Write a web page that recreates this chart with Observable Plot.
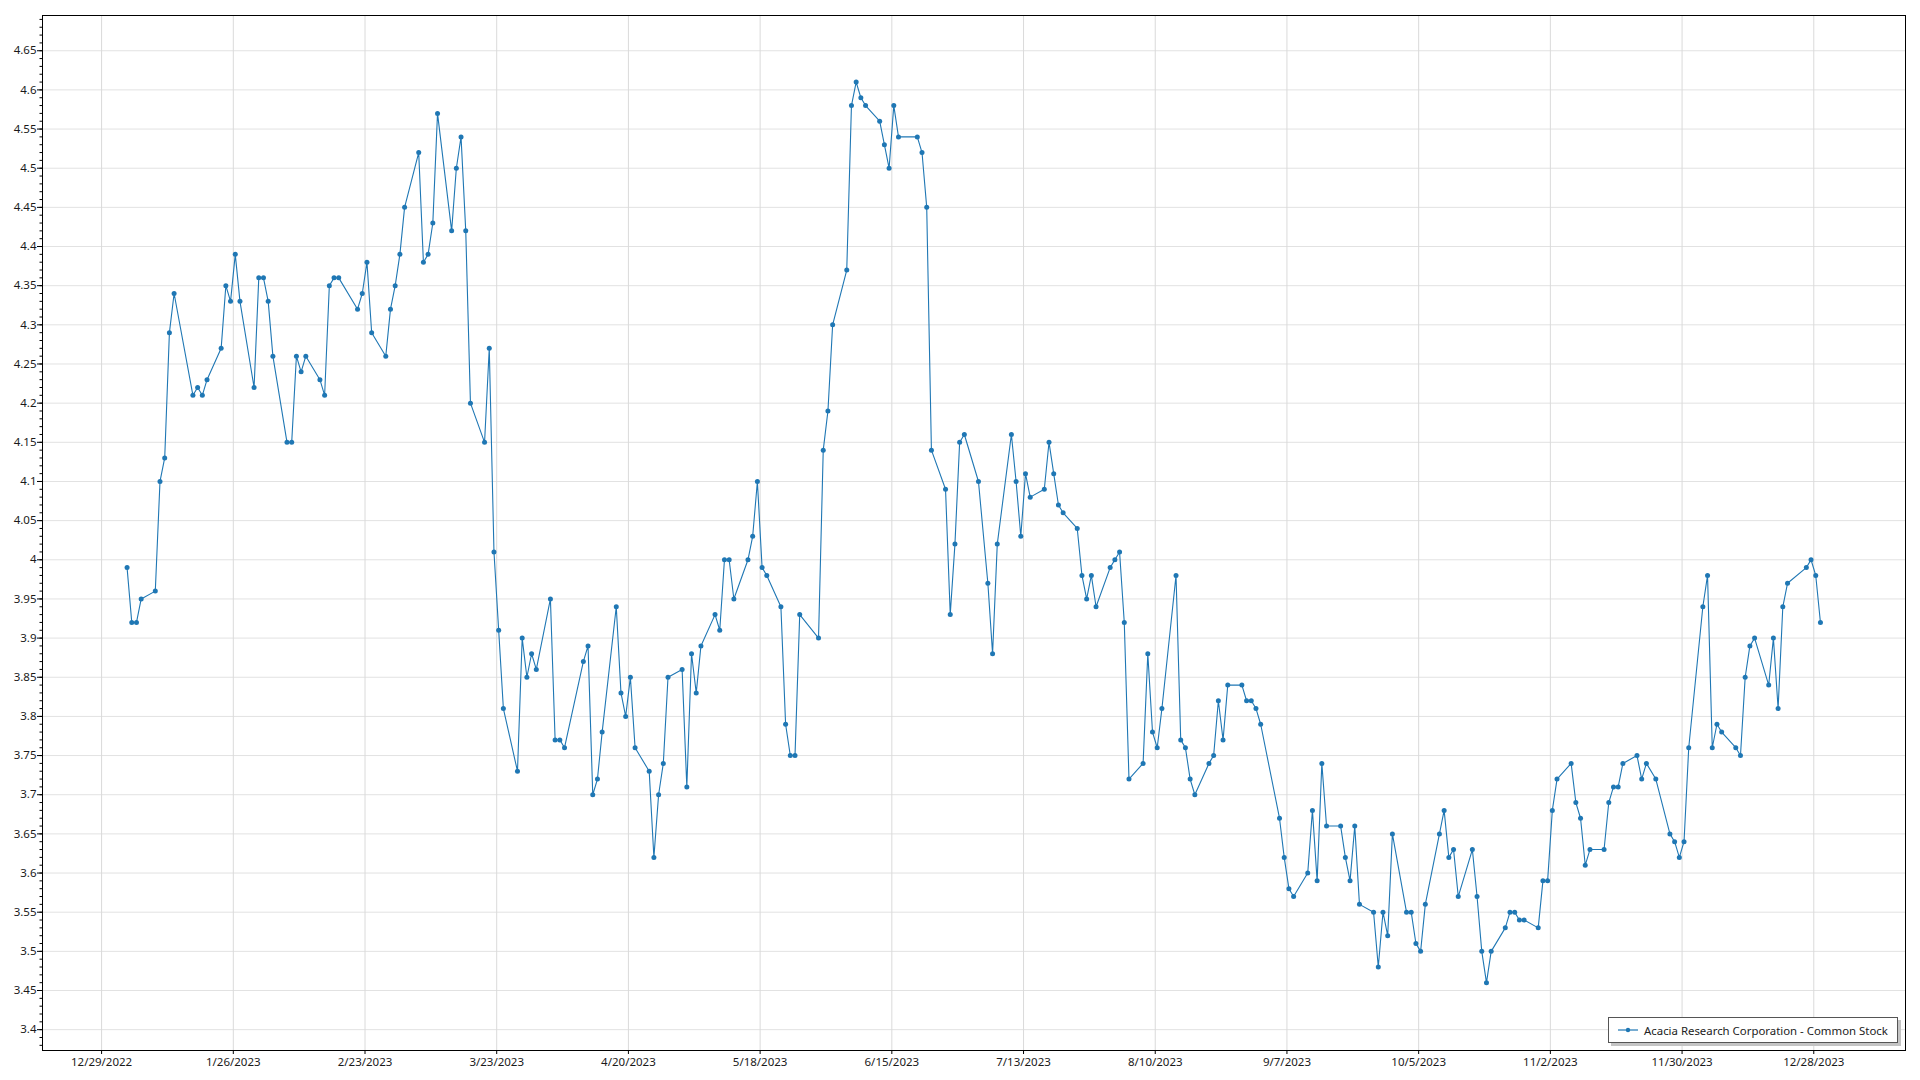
<!DOCTYPE html>
<html>
<head>
<meta charset="utf-8">
<script src="https://cdn.jsdelivr.net/npm/d3@7"></script>
<script src="https://cdn.jsdelivr.net/npm/@observablehq/plot@0.6"></script>
<style>
  html, body { margin: 0; padding: 0; background: #fff; }
  #wrap { position: relative; width: 1920px; height: 1080px; overflow: hidden; }
  #legend {
    position: absolute; left: 1608px; top: 1017px; width: 288px; height: 24px;
    border: 1px solid #555; background: #fff; box-shadow: 3px 3px 0 #c4c4c4;
    font-family: 'Segoe UI', 'Noto Sans', sans-serif; font-size: 11.4px; color: #222;
    display: flex; align-items: center; box-sizing: content-box; white-space: nowrap;
  }
  #legend svg { margin-left: 9px; margin-right: 6px; flex: none; }
</style>
</head>
<body>
<div id="wrap"></div>
<script>
// Acacia Research Corporation - Common Stock, daily closes 2023
const janDays = [3,4,5,6,9,10,11,12,13,17,18,19,20,23,24,25,26,27,30,31];
const janClose = [3.99,3.92,3.92,3.95,3.96,4.10,4.13,4.29,4.34,4.21,4.22,4.21,4.23,4.27,4.35,4.33,4.39,4.33,4.22,4.36];
const febDays = [1,2,3,6,7,8,9,10,13,14,15,16,17,21,22,23,24,27,28];
const febClose = [4.36,4.33,4.26,4.15,4.15,4.26,4.24,4.26,4.23,4.21,4.35,4.36,4.36,4.32,4.34,4.38,4.29,4.26,4.32];
const marDays = [1,2,3,6,7,8,9,10,13,14,15,16,17,20,21,22,23,24,27,28,29,30,31];
const marClose = [4.35,4.39,4.45,4.52,4.38,4.39,4.43,4.57,4.42,4.50,4.54,4.42,4.20,4.15,4.27,4.01,3.91,3.81,3.73,3.90,3.85,3.88,3.86];
const aprDays = [3,4,5,6,10,11,12,13,14,17,18,19,20,21,24,25,26,27,28];
const aprClose = [3.95,3.77,3.77,3.76,3.87,3.89,3.70,3.72,3.78,3.94,3.83,3.80,3.85,3.76,3.73,3.62,3.70,3.74,3.85];
const mayDays = [1,2,3,4,5,8,9,10,11,12,15,16,17,18,19,22,23,24,25,26,30,31];
const mayClose = [3.86,3.71,3.88,3.83,3.89,3.93,3.91,4.00,4.00,3.95,4.00,4.03,4.10,3.99,3.98,3.94,3.79,3.75,3.75,3.93,3.90,4.14];
const junDays = [1,2,5,6,7,8,9,12,13,14,15,16,20,21,22,23,26,27,28,29,30];
const junClose = [4.19,4.30,4.37,4.58,4.61,4.59,4.58,4.56,4.53,4.50,4.58,4.54,4.54,4.52,4.45,4.14,4.09,3.93,4.02,4.15,4.16];
const julDays = [3,5,6,7,10,11,12,13,14,17,18,19,20,21,24,25,26,27,28,31];
const julClose = [4.10,3.97,3.88,4.02,4.16,4.10,4.03,4.11,4.08,4.09,4.15,4.11,4.07,4.06,4.04,3.98,3.95,3.98,3.94,3.99];
const augDays = [1,2,3,4,7,8,9,10,11,14,15,16,17,18,21,22,23,24,25,28,29,30,31];
const augClose = [4.00,4.01,3.92,3.72,3.74,3.88,3.78,3.76,3.81,3.98,3.77,3.76,3.72,3.70,3.74,3.75,3.82,3.77,3.84,3.84,3.82,3.82,3.81];
const sepDays = [1,5,6,7,8,11,12,13,14,15,18,19,20,21,22,25,26,27,28,29];
const sepClose = [3.79,3.67,3.62,3.58,3.57,3.60,3.68,3.59,3.74,3.66,3.66,3.62,3.59,3.66,3.56,3.55,3.48,3.55,3.52,3.65];
const octDays = [2,3,4,5,6,9,10,11,12,13,16,17,18,19,20,23,24,25,26,27,30,31];
const octClose = [3.55,3.55,3.51,3.50,3.56,3.65,3.68,3.62,3.63,3.57,3.63,3.57,3.50,3.46,3.50,3.53,3.55,3.55,3.54,3.54,3.53,3.59];
const novDays = [1,2,3,6,7,8,9,10,13,14,15,16,17,20,21,22,24,27,28,29,30];
const novClose = [3.59,3.68,3.72,3.74,3.69,3.67,3.61,3.63,3.63,3.69,3.71,3.71,3.74,3.75,3.72,3.74,3.72,3.65,3.64,3.62,3.64];
const decDays = [1,4,5,6,7,8,11,12,13,14,15,18,19,20,21,22,26,27,28,29];
const decClose = [3.76,3.94,3.98,3.76,3.79,3.78,3.76,3.75,3.85,3.89,3.90,3.84,3.90,3.81,3.94,3.97,3.99,4.00,3.98,3.92];

const xTickLabels = ["2022-12-29","2023-01-26","2023-02-23","2023-03-23","2023-04-20","2023-05-18",
  "2023-06-15","2023-07-13","2023-08-10","2023-09-07","2023-10-05","2023-11-02","2023-11-30","2023-12-28"];
const yTickLabels = [3.4,3.45,3.5,3.55,3.6,3.65,3.7,3.75,3.8,3.85,3.9,3.95,4,4.05,4.1,4.15,4.2,4.25,4.3,4.35,4.4,4.45,4.5,4.55,4.6,4.65];
const seriesName = "Acacia Research Corporation - Common Stock";

const monthDays = [janDays,febDays,marDays,aprDays,mayDays,junDays,julDays,augDays,sepDays,octDays,novDays,decDays];
const monthClose = [janClose,febClose,marClose,aprClose,mayClose,junClose,julClose,augClose,sepClose,octClose,novClose,decClose];
const data = monthDays.flatMap((days, m) =>
  days.map((d, j) => ({date: new Date(Date.UTC(2023, m, d, 10)), close: monthClose[m][j]})));

const xTicks = xTickLabels.map(s => new Date(s + "T00:00:00Z"));
const yMinor = d3.range(338, 470).map(v => v / 100);
const color = "#1f77b4";

const chart = Plot.plot({
  width: 1920,
  height: 1080,
  marginLeft: 42,
  marginRight: 15,
  marginTop: 15,
  marginBottom: 30,
  style: {fontFamily: "'Segoe UI', 'Noto Sans', sans-serif", fontSize: "11.5px", color: "#1a1a1a", background: "#fff"},
  x: {type: "utc", domain: [new Date("2022-12-16T10:30:00Z"), new Date("2024-01-16T12:00:00Z")]},
  y: {domain: [3.3734, 4.695]},
  marks: [
    Plot.gridY(yTickLabels, {stroke: "#e2e2e2", strokeOpacity: 1}),
    Plot.gridX(xTicks, {stroke: "#dadada", strokeOpacity: 1}),
    Plot.axisY(yMinor, {tickSize: 2.5, tickFormat: () => "", label: null, stroke: "#000"}),
    Plot.axisY(yTickLabels, {tickSize: 5, tickPadding: 1, tickFormat: d => String(+d.toFixed(2)), label: null, stroke: "#000"}),
    Plot.axisX(xTicks, {tickSize: 4, tickPadding: 3, tickFormat: d3.utcFormat("%-m/%-d/%Y"), label: null, stroke: "#000"}),
    Plot.frame({stroke: "#000"}),
    Plot.line(data, {x: "date", y: "close", stroke: color, strokeWidth: 1.1}),
    Plot.dot(data, {x: "date", y: "close", r: 2.5, fill: color, stroke: "none"})
  ]
});

const wrap = document.getElementById("wrap");
wrap.appendChild(chart);

const legend = document.createElement("div");
legend.id = "legend";
legend.innerHTML = `<svg width="20" height="8"><line x1="0" y1="4" x2="20" y2="4" stroke="${color}" stroke-width="1.2"/><circle cx="10" cy="4" r="2.2" fill="${color}"/></svg><span>${seriesName}</span>`;
wrap.appendChild(legend);
</script>
</body>
</html>
